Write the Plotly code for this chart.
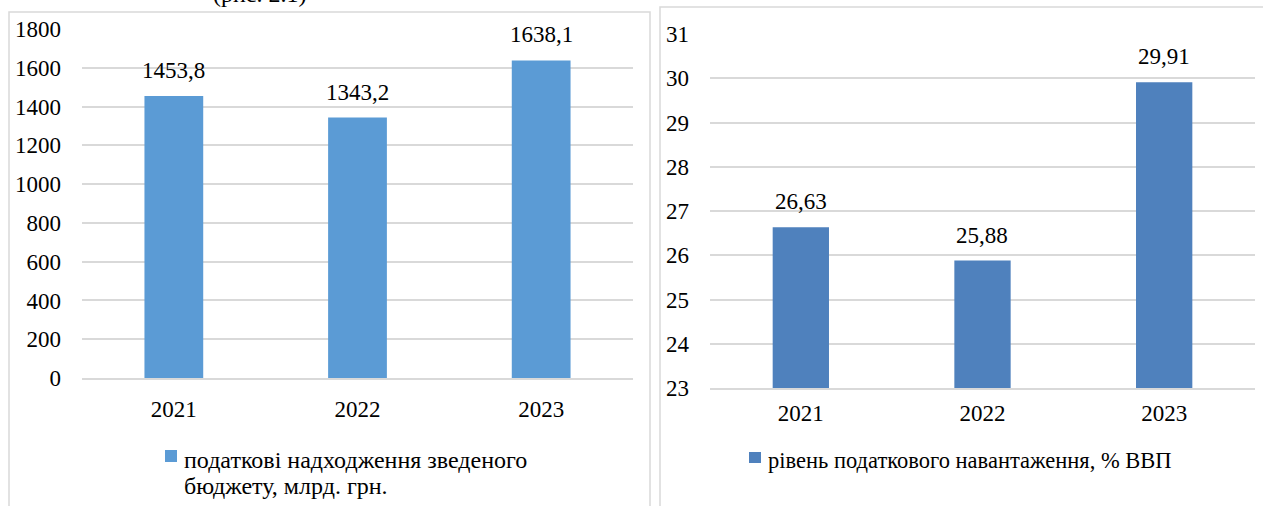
import plotly.graph_objects as go

# ---- data ----
years = ["2021", "2022", "2023"]
revenue = [1453.8, 1343.2, 1638.1]          # податкові надходження, млрд. грн.
burden = [26.63, 25.88, 29.91]              # рівень податкового навантаження, % ВВП
revenue_name = ["податкові надходження зведеного", "бюджету, млрд. грн."]
burden_name = ["рівень податкового навантаження, % ВВП"]
left_ticks = [0, 200, 400, 600, 800, 1000, 1200, 1400, 1600, 1800]
right_ticks = [23, 24, 25, 26, 27, 28, 29, 30, 31]

W, H = 1263, 506
FONT = "Liberation Serif, Times New Roman, serif"
GRID = "#D9D9D9"
C_LEFT = "#5B9BD5"
C_RIGHT = "#4F81BD"


def px_x(p):
    return p / W


def px_y(p):
    return 1 - p / H


def fmt(v):
    s = f"{v:.2f}".rstrip("0").rstrip(".")
    return s.replace(".", ",")


fig = go.Figure()
fig.add_trace(go.Bar(x=years, y=revenue, marker_color=C_LEFT, width=0.32,
                     xaxis="x", yaxis="y", showlegend=False, name=" ".join(revenue_name)))
fig.add_trace(go.Bar(x=years, y=burden, marker_color=C_RIGHT, width=0.31,
                     xaxis="x2", yaxis="y2", showlegend=False, name=" ".join(burden_name)))

lbl_font = dict(family=FONT, size=23, color="#000")
ann = []
for i, yv in enumerate(revenue):
    ann.append(dict(x=i, y=yv, xref="x", yref="y", text=fmt(yv), showarrow=False,
                    yanchor="bottom", yshift=11, font=lbl_font))
for i, yv in enumerate(burden):
    ann.append(dict(x=i, y=yv, xref="x2", yref="y2", text=fmt(yv), showarrow=False,
                    yanchor="bottom", yshift=11, font=lbl_font))

# legends (manual), one annotation per line
for k, line in enumerate(revenue_name):
    ann.append(dict(x=px_x(182), y=px_y(460 + 26 * k), xref="paper", yref="paper", text=line,
                    showarrow=False, xanchor="left", yanchor="middle", align="left",
                    font=dict(family=FONT, size=24, color="#000")))
for k, line in enumerate(burden_name):
    ann.append(dict(x=px_x(766), y=px_y(460 + 26 * k), xref="paper", yref="paper", text=line,
                    showarrow=False, xanchor="left", yanchor="middle", align="left",
                    font=dict(family=FONT, size=22.5, color="#000")))
# cut-off caption at top (cut in the reference as well)
ann.append(dict(x=px_x(259), y=px_y(-6), xref="paper", yref="paper", text="(рис. 2.1)",
                showarrow=False, xanchor="center", yanchor="middle",
                font=dict(family=FONT, size=24, color="#000")))

shapes = [
    dict(type="rect", xref="paper", yref="paper", x0=px_x(9), x1=px_x(650),
         y0=px_y(520), y1=px_y(12), line=dict(color=GRID, width=1.5)),
    dict(type="rect", xref="paper", yref="paper", x0=px_x(660), x1=px_x(1275),
         y0=px_y(520), y1=px_y(7), line=dict(color=GRID, width=1.5)),
    dict(type="rect", xref="paper", yref="paper", x0=px_x(165), x1=px_x(177),
         y0=px_y(462), y1=px_y(450), line=dict(width=0), fillcolor=C_LEFT),
    dict(type="rect", xref="paper", yref="paper", x0=px_x(749), x1=px_x(761),
         y0=px_y(463), y1=px_y(452), line=dict(width=0), fillcolor=C_RIGHT),
]

axis_font = dict(family=FONT, size=23, color="#000")
common_x = dict(type="category", range=[-0.5, 2.5], showline=True, linecolor=GRID,
                linewidth=1.5, showgrid=False, ticks="", tickfont=axis_font,
                automargin=False, fixedrange=True)
common_y = dict(showgrid=True, gridcolor=GRID, gridwidth=1.5, zeroline=False,
                showline=False, ticks="", tickfont=axis_font, ticklabelstandoff=20,
                automargin=False, fixedrange=True)

fig.update_layout(
    template=None,
    width=W, height=H,
    autosize=False,
    margin=dict(l=0, r=0, t=0, b=0, pad=0),
    paper_bgcolor="white", plot_bgcolor="white",
    showlegend=False,
    annotations=ann, shapes=shapes,
    xaxis=dict(domain=[px_x(82), px_x(633)], anchor="y", ticklabelstandoff=10, **common_x),
    yaxis=dict(domain=[px_y(378), px_y(29)], anchor="x", range=[0, 1800],
               tickvals=left_ticks, **common_y),
    xaxis2=dict(domain=[px_x(710), px_x(1255)], anchor="y2", ticklabelstandoff=4, **common_x),
    yaxis2=dict(domain=[px_y(388), px_y(34)], anchor="x2", range=[23, 31],
                tickvals=right_ticks, **common_y),
)

fig.write_html("out.html", config={"displayModeBar": False},
               post_script="document.body.style.margin='0';document.body.style.overflow='hidden';")
